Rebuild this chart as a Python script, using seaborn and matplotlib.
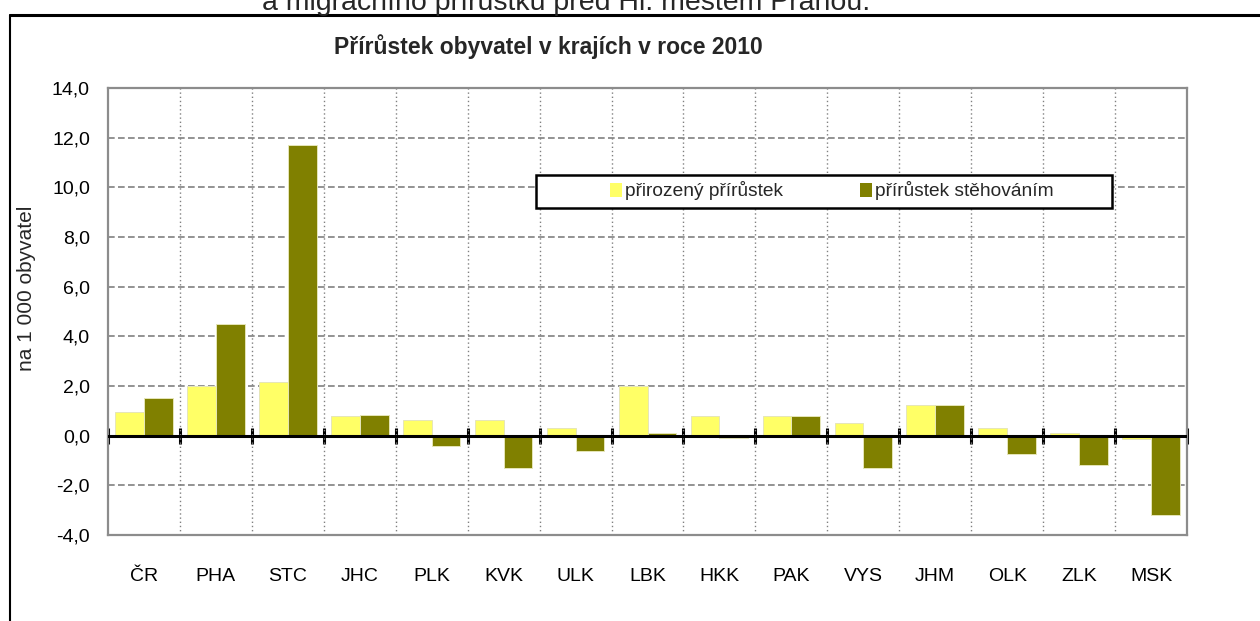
#!/usr/bin/env python3
import matplotlib
matplotlib.use("Agg")
import matplotlib.pyplot as plt
from matplotlib.patches import Rectangle, Patch
from matplotlib.lines import Line2D
from matplotlib.ticker import FuncFormatter, FixedLocator
import pandas as pd
import seaborn as sns


KRAJE = ["ČR", "PHA", "STC", "JHC", "PLK", "KVK", "ULK", "LBK", "HKK", "PAK", "VYS", "JHM", "OLK", "ZLK", "MSK"]
PRIROZENY = [0.95, 2.0, 2.15, 0.8, 0.65, 0.65, 0.3, 2.0, 0.8, 0.8, 0.5, 1.25, 0.3, 0.1, -0.15]
STEHOVANI = [1.5, 4.5, 11.7, 0.85, -0.4, -1.3, -0.6, 0.12, -0.1, 0.8, -1.3, 1.25, -0.75, -1.2, -3.2]
SERIES = ["přirozený přírůstek", "přírůstek stěhováním"]
COLORS = {"přirozený přírůstek": "#FFFF66", "přírůstek stěhováním": "#808000"}
Y_TICKS = [-4, -2, 0, 2, 4, 6, 8, 10, 12, 14]

W, H = 1260, 621


def build_frame():
    df = pd.DataFrame({"kraj": KRAJE, SERIES[0]: PRIROZENY, SERIES[1]: STEHOVANI})
    return df.melt(id_vars="kraj", var_name="typ", value_name="hodnota")


def main():
    sns.set_theme(style="white")
    plt.rcParams["font.family"] = ["Liberation Sans", "DejaVu Sans"]
    df = build_frame()

    fig = plt.figure(figsize=(W / 100, H / 100), dpi=100)
    ax = fig.add_axes([108 / W, 1 - 535 / H, (1187 - 108) / W, (535 - 88) / H])

    sns.barplot(
        data=df, x="kraj", y="hodnota", hue="typ", order=KRAJE, hue_order=SERIES,
        palette=COLORS, saturation=1, width=0.8, edgecolor="#e6e6b8", linewidth=0.7,
        errorbar=None, legend=False, ax=ax, zorder=3,
    )
    ax.set_xlim(-0.5, len(KRAJE) - 0.5)
    ax.set_ylim(-4, 14)
    ax.yaxis.set_major_locator(FixedLocator(Y_TICKS))
    ax.yaxis.set_major_formatter(FuncFormatter(lambda v, _: f"{v:.1f}".replace(".", ",")))
    ax.set_xlabel("")
    ax.set_ylabel("")

    # grid: dashed horizontal, dotted vertical between categories
    for y in Y_TICKS[1:-1]:
        ax.axhline(y, color="#808080", lw=1.2, ls=(0, (4, 2)), zorder=1)
    ax.set_xticks([i + 0.5 for i in range(len(KRAJE) - 1)], minor=True)
    ax.grid(which="minor", axis="x", color="#808080", lw=1.0, ls=(0, (1, 2)), zorder=1)
    ax.grid(which="major", axis="x", visible=False)

    ax.tick_params(axis="x", which="major", length=0, pad=24, labelsize=14, colors="black")
    ax.tick_params(axis="x", which="minor", length=0)
    ax.tick_params(axis="y", length=0, pad=13, labelsize=14, colors="black")
    for sp in ax.spines.values():
        sp.set_visible(True)
        sp.set_color("#8c8c8c")
        sp.set_linewidth(1.6)

    # zero axis with crossing ticks
    ax.axhline(0, color="black", lw=2.2, zorder=4)
    sec = ax.secondary_xaxis(4 / 18)
    sec.spines["bottom"].set_visible(False)
    sec.set_xticks([i - 0.5 for i in range(len(KRAJE) + 1)])
    sec.tick_params(axis="x", direction="inout", length=11, width=2.2, colors="black", labelbottom=False)

    # legend box
    lx0 = (536 - 108) / 1079
    lx1 = (1112 - 108) / 1079
    ly0 = (535 - 208) / 447
    ly1 = (535 - 175) / 447
    ax.add_patch(Rectangle((lx0, ly0), lx1 - lx0, ly1 - ly0, transform=ax.transAxes,
                           facecolor="white", edgecolor="black", lw=1.8, zorder=5))
    handles = [Patch(facecolor=COLORS[s], edgecolor="none") for s in SERIES]
    leg = ax.legend(handles, SERIES, loc="center", bbox_to_anchor=((832 - 108) / 1079, (535 - 191) / 447),
                    ncol=2, frameon=False, fontsize=13.8, handlelength=0.6, handleheight=0.7,
                    handletextpad=0.2, columnspacing=4.0)
    leg.set_zorder(6)

    fig.text(548 / W, 1 - 47 / H, "Přírůstek obyvatel v krajích v roce 2010", ha="center", va="center",
             fontsize=16.5, fontweight="bold")
    fig.text(27 / W, 1 - 288 / H, "na 1 000 obyvatel", rotation=90, ha="center", va="center", fontsize=15)
    fig.text(566 / W, 1 - 1 / H, "a migračního přírůstku před Hl. městem Prahou.", ha="center",
             va="center", fontsize=20.5)

    # outer chart frame
    fig.add_artist(Line2D([10 / W, 10 / W], [0, 1 - 15 / H], color="black", lw=1.5, transform=fig.transFigure))
    fig.add_artist(Line2D([10 / W, 1], [1 - 15 / H, 1 - 15 / H], color="black", lw=2.2, transform=fig.transFigure))

    fig.savefig("out.png", dpi=100)
    plt.close(fig)


if __name__ == "__main__":
    main()
